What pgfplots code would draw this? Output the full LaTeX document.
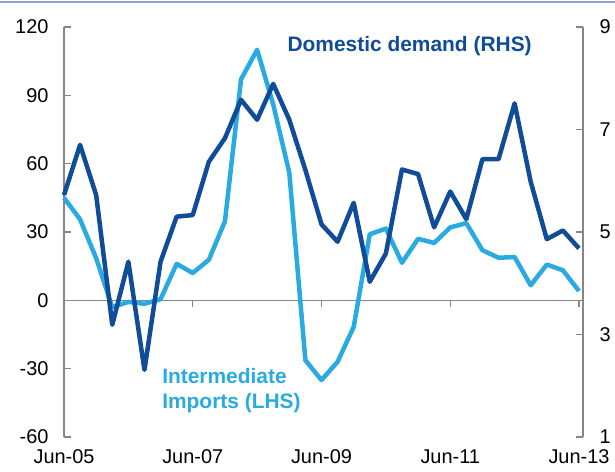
\documentclass[border=0pt]{standalone}
\usepackage{fontspec}
\setmainfont{Liberation Sans}
\usepackage{pgfplots}
\pgfplotsset{compat=1.18}
\definecolor{dkblue}{RGB}{16,76,152}
\definecolor{ltblue}{RGB}{41,171,226}
\definecolor{axgray}{RGB}{134,134,134}
\definecolor{topline}{RGB}{154,160,204}

\pgfplotstableread{
i val
0 45
1 35.5
2 18.5
3 -3
4 -0.7
5 -1.5
6 0.5
7 16
8 12
9 17.8
10 34.7
11 97
12 110
13 86
14 56
15 -26.3
16 -35
17 -27
18 -11.7
19 29
20 31.5
21 16.5
22 27
23 25.2
24 32
25 33.9
26 22
27 18.7
28 19
29 6.6
30 15.7
31 13.2
32 4.1
}\imports

\pgfplotstableread{
i val
0 5.72
1 6.70
2 5.72
3 3.19
4 4.42
5 2.31
6 4.42
7 5.30
8 5.33
9 6.37
10 6.83
11 7.58
12 7.19
13 7.89
14 7.19
15 6.21
16 5.15
17 4.81
18 5.57
19 4.03
20 4.58
21 6.22
22 6.13
23 5.09
24 5.79
25 5.25
26 6.42
27 6.42
28 7.51
29 5.98
30 4.86
31 5.03
32 4.68
}\demand

\begin{document}
\begin{tikzpicture}
\useasboundingbox (-64bp,-35bp) rectangle (551bp,437bp);
\begin{axis}[
  at={(0,0)}, anchor=south west,
  width=519bp, height=410bp, scale only axis,
  xmin=0, xmax=32.25, ymin=-60, ymax=120,
  axis y line*=left, axis x line*=bottom,
  x axis line style={draw=none},
  y axis line style={axgray, line width=1.3bp},
  ytick={-60,-30,0,30,60,90,120},
  ytick style={axgray, line width=1.3bp},
  tick align=inside, major tick length=7bp,
  xtick={0,8,16,24,32},
  xticklabels={Jun-05,Jun-07,Jun-09,Jun-11,Jun-13},
  xtick style={draw=none},
  ticklabel style={font=\fontsize{20}{24}\selectfont},
  /pgf/number format/assume math mode=true,
  yticklabel style={xshift=-12bp},
  xticklabel style={yshift=-9bp},
  clip=false,
]
\draw[axgray, line width=1.3bp] (axis cs:0,0) -- (axis cs:32.25,0);
\pgfplotsinvokeforeach{0,8,16,24,32}{
  \draw[axgray, line width=1.3bp] (axis cs:#1,0) -- ++(0bp,-7bp);
}
\addplot[ltblue, line width=4.5bp, line join=round, no markers] table[x=i, y=val] {\imports};
\end{axis}
\begin{axis}[
  at={(0,0)}, anchor=south west,
  width=519bp, height=410bp, scale only axis,
  xmin=0, xmax=32.25, ymin=1, ymax=9,
  axis y line*=right, axis x line=none,
  y axis line style={axgray, line width=1.3bp},
  ytick={1,3,5,7,9},
  ytick style={axgray, line width=1.3bp},
  tick align=inside, major tick length=7bp,
  ticklabel style={font=\fontsize{20}{24}\selectfont},
  /pgf/number format/assume math mode=true,
  yticklabel style={xshift=13bp},
  clip=false,
]
\addplot[dkblue, line width=4.5bp, line join=round, no markers] table[x=i, y=val] {\demand};
\node[font=\fontsize{21}{25}\selectfont\bfseries, text=dkblue, inner sep=0pt] at (rel axis cs:0.666,0.954) {Domestic demand (RHS)};
\node[font=\fontsize{21}{25}\selectfont\bfseries, text=ltblue, align=left, anchor=west, inner sep=0pt] at (rel axis cs:0.189,0.113) {Intermediate\\Imports (LHS)};
\end{axis}
\draw[topline, line width=2bp] (-64bp,435bp) -- (551bp,435bp);
\end{tikzpicture}
\end{document}
